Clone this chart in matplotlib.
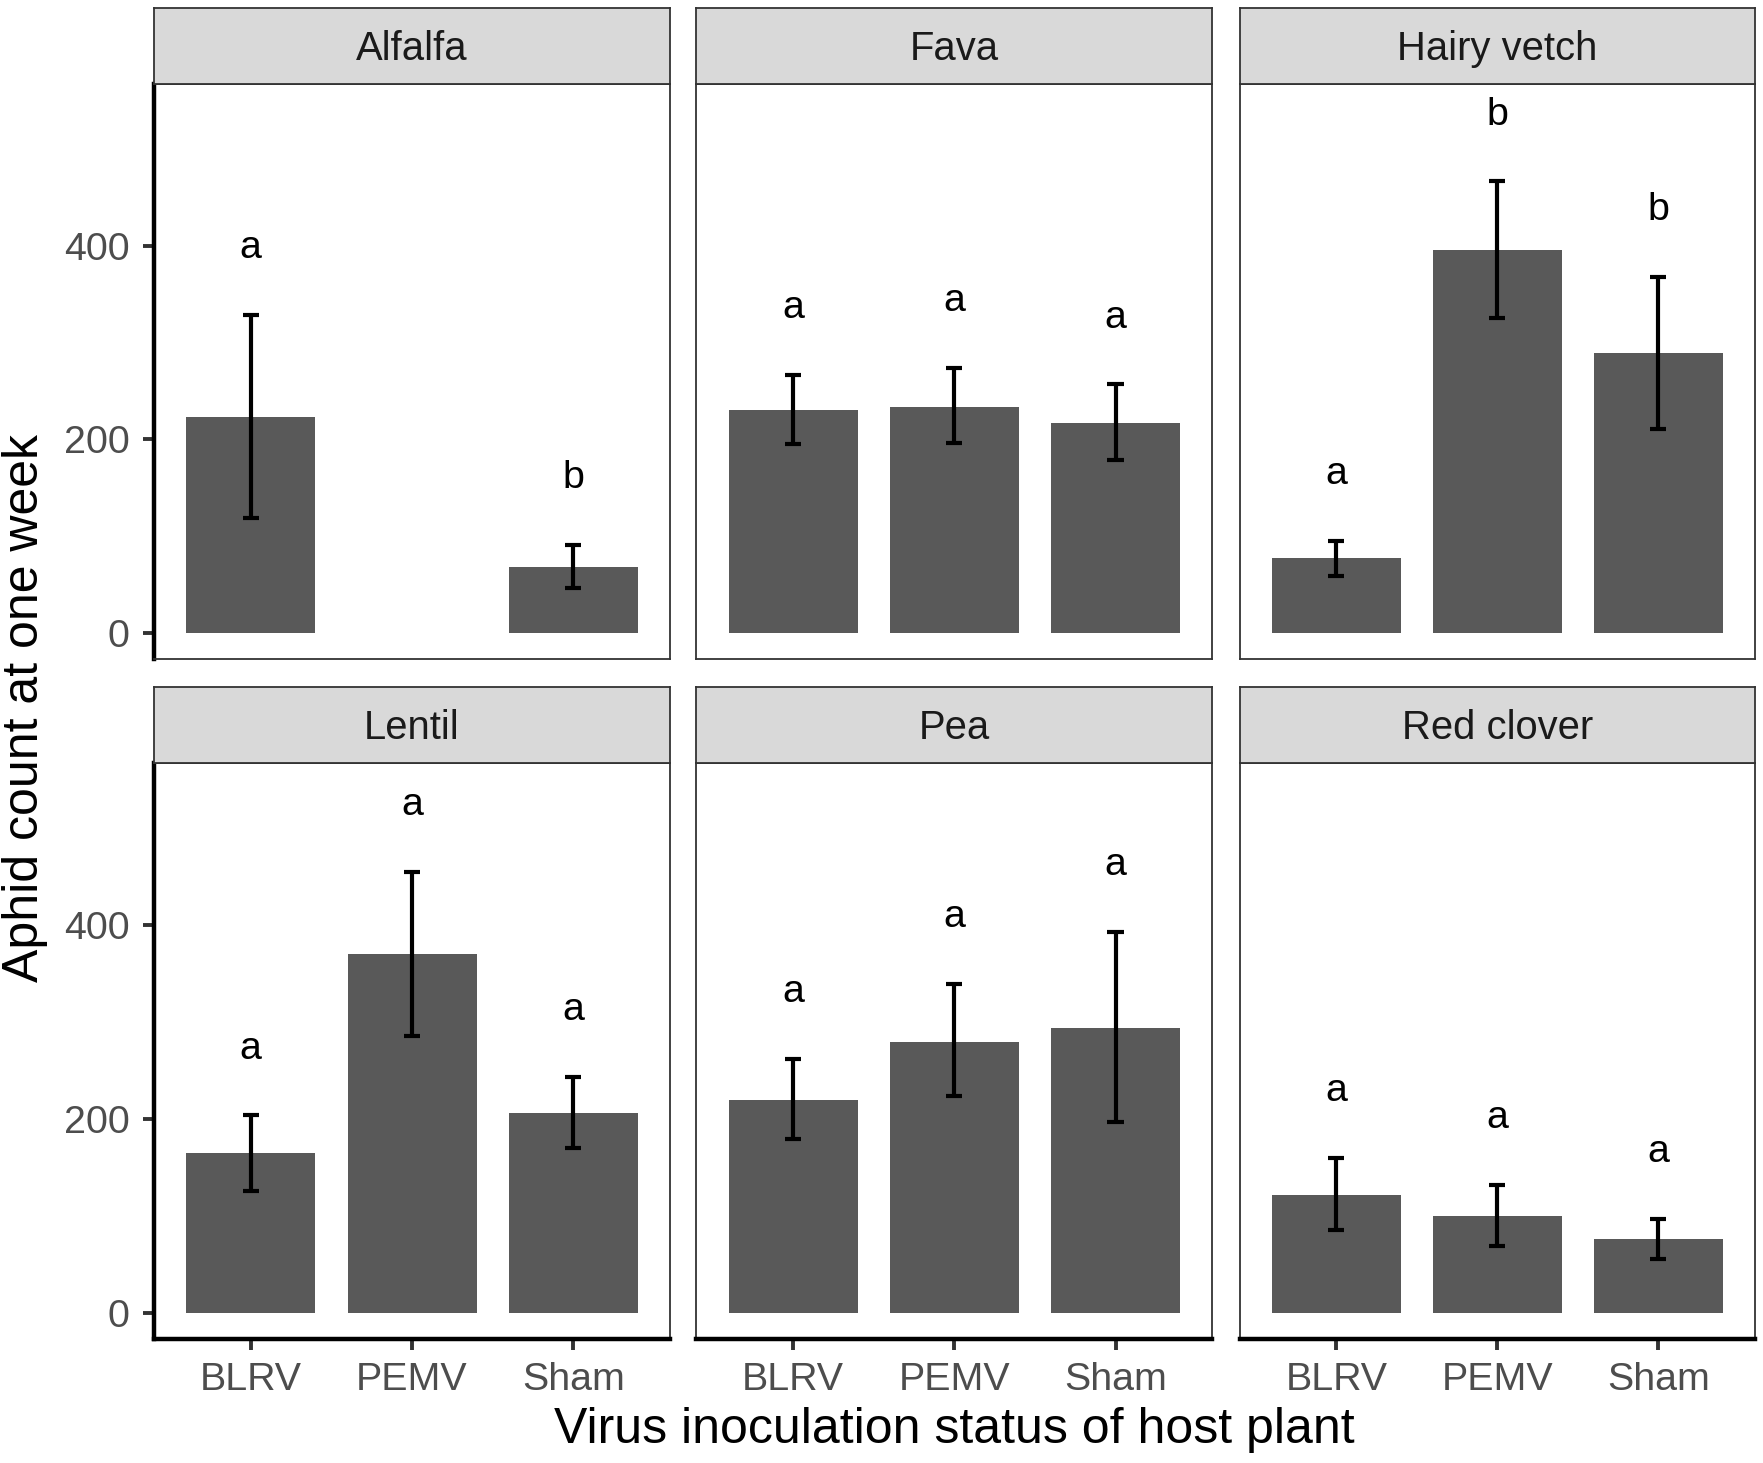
import numpy as np
import matplotlib
matplotlib.use("Agg")
import matplotlib.pyplot as plt

plt.rcParams['font.family'] = ['Liberation Sans', 'DejaVu Sans']

# ---- data ----
crops = ["Alfalfa", "Fava", "Hairy vetch", "Lentil", "Pea", "Red clover"]
treatments = ["BLRV", "PEMV", "Sham"]
nan = np.nan
means = {
    "Alfalfa":     [223, nan, 68],
    "Fava":        [230, 234, 217],
    "Hairy vetch": [77, 396, 289],
    "Lentil":      [165, 370, 206],
    "Pea":         [220, 280, 294],
    "Red clover":  [122, 100, 76],
}
lower = {
    "Alfalfa":     [119, nan, 46],
    "Fava":        [195, 196, 179],
    "Hairy vetch": [59, 326, 211],
    "Lentil":      [126, 286, 170],
    "Pea":         [180, 224, 197],
    "Red clover":  [86, 69, 56],
}
upper = {
    "Alfalfa":     [329, nan, 91],
    "Fava":        [267, 274, 257],
    "Hairy vetch": [95, 467, 368],
    "Lentil":      [204, 455, 244],
    "Pea":         [262, 340, 393],
    "Red clover":  [160, 132, 97],
}
letters = {
    "Alfalfa":     ["a", "", "b"],
    "Fava":        ["a", "a", "a"],
    "Hairy vetch": ["a", "b", "b"],
    "Lentil":      ["a", "a", "a"],
    "Pea":         ["a", "a", "a"],
    "Red clover":  ["a", "a", "a"],
}
yticks = [0, 200, 400]
xlabel = "Virus inoculation status of host plant"
ylabel = "Aphid count at one week"

# ---- layout (pixels) ----
W, H = 1763, 1463
DPI = 200
fig = plt.figure(figsize=(W / DPI, H / DPI), dpi=DPI)
fig.patch.set_facecolor("white")

cols = [(154, 670), (696.3, 1212.3), (1239.8, 1755)]
rows = [(8, 83.5, 659), (687, 762.5, 1339.3)]  # strip top, panel top, panel bottom

BAR = "#595959"
BORDER = "#333333"
label_offset = 58.5

def axrect(l, r, t, b):
    return [l / W, 1 - b / H, (r - l) / W, (b - t) / H]

for i, crop in enumerate(crops):
    ri, ci = divmod(i, 3)
    st, pt, pb = rows[ri]
    l, r = cols[ci]
    ax = fig.add_axes(axrect(l, r, pt, pb))
    x = np.arange(len(treatments))
    m = np.array(means[crop], dtype=float)
    lo = np.array(lower[crop], dtype=float)
    up = np.array(upper[crop], dtype=float)
    ok = ~np.isnan(m)
    ax.bar(x[ok], m[ok], width=0.8, color=BAR, zorder=2)
    ax.vlines(x[ok], lo[ok], up[ok], color="black", lw=1.5, zorder=3)
    ax.hlines(lo[ok], x[ok] - 0.05, x[ok] + 0.05, color="black", lw=1.5, zorder=3)
    ax.hlines(up[ok], x[ok] - 0.05, x[ok] + 0.05, color="black", lw=1.5, zorder=3)
    for xi, u, lt in zip(x, up, letters[crop]):
        if lt and not np.isnan(u):
            ax.text(xi, u + label_offset, lt, ha="center", va="baseline",
                    fontsize=14.2, color="black", zorder=4)
    ax.set_xlim(-0.6, 2.6)
    ax.set_ylim(-27, 568)
    ax.set_xticks(x)
    ax.set_yticks(yticks)
    ax.tick_params(axis="both", length=3.9, width=1.4, color=BORDER,
                   labelcolor="#4D4D4D", labelsize=14.2)
    ax.tick_params(axis="x", pad=4.2)
    ax.tick_params(axis="y", pad=4.8)
    for sp in ax.spines.values():
        sp.set_color(BORDER)
        sp.set_linewidth(0.65)
    if ci == 0:
        ax.spines["left"].set_color("black")
        ax.spines["left"].set_linewidth(1.6)
        ax.set_yticklabels([str(v) for v in yticks])
    else:
        ax.tick_params(axis="y", left=False, labelleft=False)
    if ri == 1:
        ax.spines["bottom"].set_color("black")
        ax.spines["bottom"].set_linewidth(1.6)
        ax.set_xticklabels(treatments)
    else:
        ax.tick_params(axis="x", bottom=False, labelbottom=False)
    ax.set_facecolor("white")

    # strip
    sax = fig.add_axes(axrect(l, r, st, pt))
    sax.set_facecolor("#D9D9D9")
    sax.set_xticks([])
    sax.set_yticks([])
    for sp in sax.spines.values():
        sp.set_color(BORDER)
        sp.set_linewidth(0.65)
    sax.text(0.5, 0.315, crop, ha="center", va="baseline", fontsize=14.4,
             color="#1A1A1A", transform=sax.transAxes)

fig.text((154 + 1755) / 2 / W, 1 - 1430 / H, xlabel, ha="center", va="center",
         fontsize=18, color="black")
fig.text(25 / W, 1 - 708 / H, ylabel, ha="center", va="center", rotation=90,
         fontsize=18, color="black")

fig.savefig("out.png", dpi=DPI, facecolor="white")
